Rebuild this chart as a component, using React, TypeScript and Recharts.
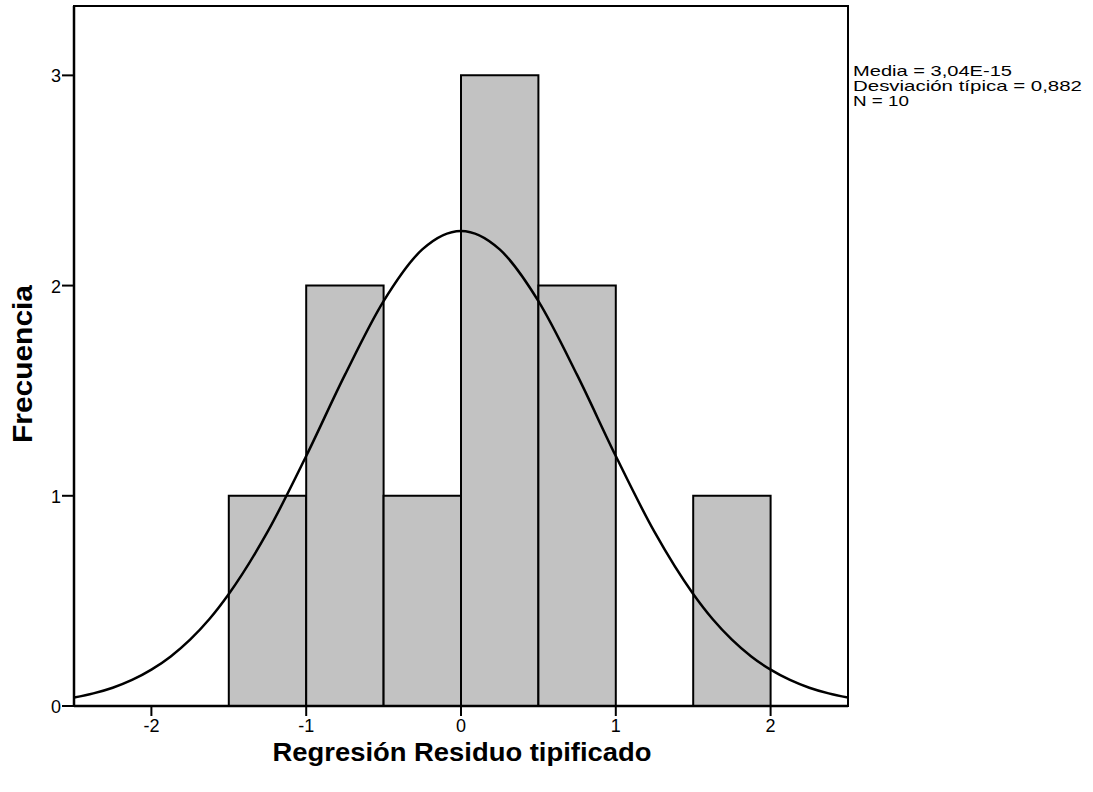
import React from "react";
import {
  ComposedChart,
  Line,
  XAxis,
  YAxis,
  ReferenceArea,
} from "recharts";

// Histogram bins (Regresión Residuo tipificado)
const binStarts = [-1.5, -1.0, -0.5, 0.0, 0.5, 1.5];
const binEnds = [-1.0, -0.5, 0.0, 0.5, 1.0, 2.0];
const binCounts = [1, 2, 1, 3, 2, 1];

// Normal curve
const curveX = [
  -2.5, -2.375, -2.25, -2.125, -2.0, -1.875, -1.75, -1.625, -1.5, -1.25, -1.0,
  -0.75, -0.5, -0.25, 0, 0.25, 0.5, 0.75, 1.0, 1.25, 1.5, 1.625, 1.75, 1.875,
  2.0, 2.125, 2.25, 2.375, 2.5,
];
const curveY = [
  0.04, 0.06, 0.087, 0.124, 0.173, 0.236, 0.316, 0.414, 0.533, 0.828, 1.189,
  1.575, 1.926, 2.172, 2.26, 2.172, 1.926, 1.575, 1.189, 0.828, 0.533, 0.414,
  0.316, 0.236, 0.173, 0.124, 0.087, 0.06, 0.04,
];

const xTicks = [-2, -1, 0, 1, 2];
const yTicks = [0, 1, 2, 3];
const xDomain = [-2.5, 2.5];
const yDomain = [0, 3.33];

const statsLines = ["Media = 3,04E-15", "Desviación típica = 0,882", "N = 10"];
const statsWidths = [159, 229, 56];

const xTitle = "Regresión Residuo tipificado";
const yTitle = "Frecuencia";

const curveData = curveX.map((x, i) => ({ x, y: curveY[i] }));

const FONT = "'Liberation Sans', Arial, sans-serif";

const renderXTick = (props: any) => {
  const { x, y, payload } = props;
  return (
    <text
      key={`xt-${payload.value}`}
      x={x}
      y={y + 15}
      textAnchor="middle"
      style={{ fontSize: "18px", fontFamily: FONT }}
      fill="#000"
    >
      {payload.value}
    </text>
  );
};

const renderYTick = (props: any) => {
  const { x, y, payload } = props;
  return (
    <text
      key={`yt-${payload.value}`}
      x={x}
      y={y + 7}
      textAnchor="end"
      style={{ fontSize: "18px", fontFamily: FONT }}
      fill="#000"
    >
      {payload.value}
    </text>
  );
};

export default function App() {
  const W = 1093;
  const H = 792;
  return (
    <div style={{ position: "absolute", left: 0, top: 0, width: W, height: H, background: "#fff" }}>
      <ComposedChart
        width={W}
        height={H}
        data={curveData}
        margin={{ top: 6, right: 245, bottom: 0, left: 0 }}
        style={{ fontFamily: FONT }}
      >
        <XAxis
          xAxisId="main"
          dataKey="x"
          type="number"
          domain={xDomain}
          ticks={xTicks}
          allowDataOverflow
          height={86}
          tickSize={10}
          tickMargin={1}
          axisLine={{ stroke: "#000", strokeWidth: 2.5 }}
          tickLine={{ stroke: "#000", strokeWidth: 2 }}
          tick={renderXTick}
        />
        <YAxis
          yAxisId="main"
          type="number"
          domain={yDomain}
          ticks={yTicks}
          allowDataOverflow
          width={74}
          tickSize={12}
          tickMargin={1}
          axisLine={{ stroke: "#000", strokeWidth: 2.5 }}
          tickLine={{ stroke: "#000", strokeWidth: 2 }}
          tick={renderYTick}
        />
        <ReferenceArea
          xAxisId="main"
          yAxisId="main"
          x1={xDomain[0]}
          x2={xDomain[1]}
          y1={yDomain[0]}
          y2={yDomain[1]}
          fill="none"
          stroke="#000"
          strokeWidth={2}
          ifOverflow="visible"
        />
        {binStarts.map((s, i) => (
          <ReferenceArea
            key={i}
            xAxisId="main"
            yAxisId="main"
            x1={s}
            x2={binEnds[i]}
            y1={0}
            y2={binCounts[i]}
            fill="#c2c2c2"
            fillOpacity={1}
            stroke="#000"
            strokeWidth={2}
            ifOverflow="visible"
          />
        ))}
        <Line
          xAxisId="main"
          yAxisId="main"
          dataKey="y"
          type="monotone"
          stroke="#000"
          strokeWidth={2.5}
          dot={false}
          activeDot={false}
          isAnimationActive={false}
        />
      </ComposedChart>
      <svg
        width={W}
        height={H}
        style={{ position: "absolute", left: 0, top: 0, pointerEvents: "none" }}
      >
        {statsLines.map((t, i) => (
          <text
            key={i}
            x={853}
            y={76 + i * 15}
            style={{ fontSize: "15px", fontFamily: FONT }}
            fill="#000"
            textLength={statsWidths[i]}
            lengthAdjust="spacingAndGlyphs"
          >
            {t}
          </text>
        ))}
        <text
          x={462}
          y={761}
          textAnchor="middle"
          fontSize={26}
          fontWeight="bold"
          fontFamily={FONT}
          fill="#000"
          textLength={379}
          lengthAdjust="spacingAndGlyphs"
        >
          {xTitle}
        </text>
        <text
          x={0}
          y={0}
          transform="translate(32,364) rotate(-90)"
          textAnchor="middle"
          fontSize={27}
          fontWeight="bold"
          fontFamily={FONT}
          fill="#000"
          textLength={158}
          lengthAdjust="spacingAndGlyphs"
        >
          {yTitle}
        </text>
      </svg>
    </div>
  );
}
